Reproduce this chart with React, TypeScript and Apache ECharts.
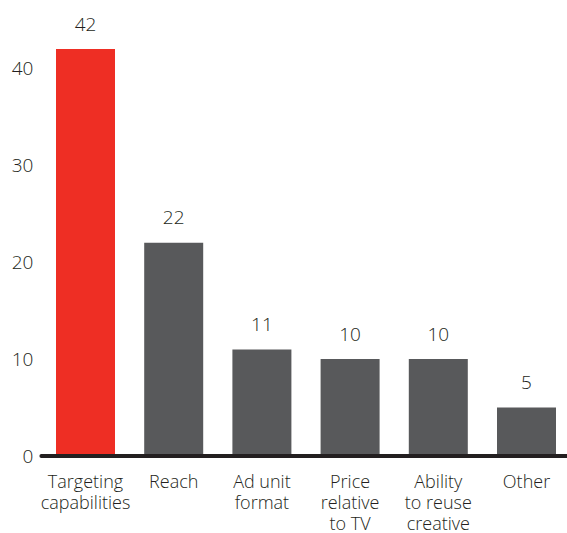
import React, { useEffect, useRef } from "react";
import * as echarts from "echarts";

const categories = [
  "Targeting\ncapabilities",
  "Reach",
  "Ad unit\nformat",
  "Price\nrelative\nto TV",
  "Ability\nto reuse\ncreative",
  "Other",
];
const values = [42, 22, 11, 10, 10, 5];
const highlightIndex = 0;
const yTicks = [0, 10, 20, 30, 40];

export default function App() {
  const ref = useRef<HTMLDivElement>(null);
  useEffect(() => {
    const chart = echarts.init(ref.current!, null, { renderer: "svg" });
    const font = "'Open Sans', Lato, sans-serif";
    chart.setOption({
      animation: false,
      grid: { left: 41.4, top: 49, width: 529.2, height: 407 },
      xAxis: {
        type: "category",
        data: categories,
        axisTick: { show: false },
        axisLine: { show: true, lineStyle: { color: "#231F20", width: 4, cap: "round" } },
        axisLabel: {
          interval: 0,
          margin: 14,
          fontSize: 18,
          fontWeight: 300,
          lineHeight: 21,
          color: "#231F20",
          fontFamily: font,
          verticalAlign: "top",
        },
        z: 10,
      },
      yAxis: {
        type: "value",
        min: 0,
        max: 42,
        interval: 10,
        splitLine: { show: false },
        axisLine: { show: false },
        axisTick: { show: false },
        axisLabel: {
          margin: 8,
          fontSize: 19,
          fontWeight: 300,
          color: "#231F20",
          fontFamily: font,
          formatter: (v: number) => (yTicks.includes(v) ? String(v) : ""),
        },
      },
      series: [
        {
          type: "bar",
          barWidth: 59,
          data: values.map((v, i) => ({
            value: v,
            itemStyle: { color: i === highlightIndex ? "#EE2E24" : "#58595B" },
          })),
          label: {
            show: true,
            position: "top",
            distance: 16,
            fontSize: 19,
            fontWeight: 300,
            color: "#231F20",
            fontFamily: font,
          },
        },
      ],
    });
    return () => chart.dispose();
  }, []);
  return (
    <div
      ref={ref}
      style={{ position: "fixed", left: 0, top: 0, width: 580, height: 533, background: "#fff" }}
    />
  );
}
